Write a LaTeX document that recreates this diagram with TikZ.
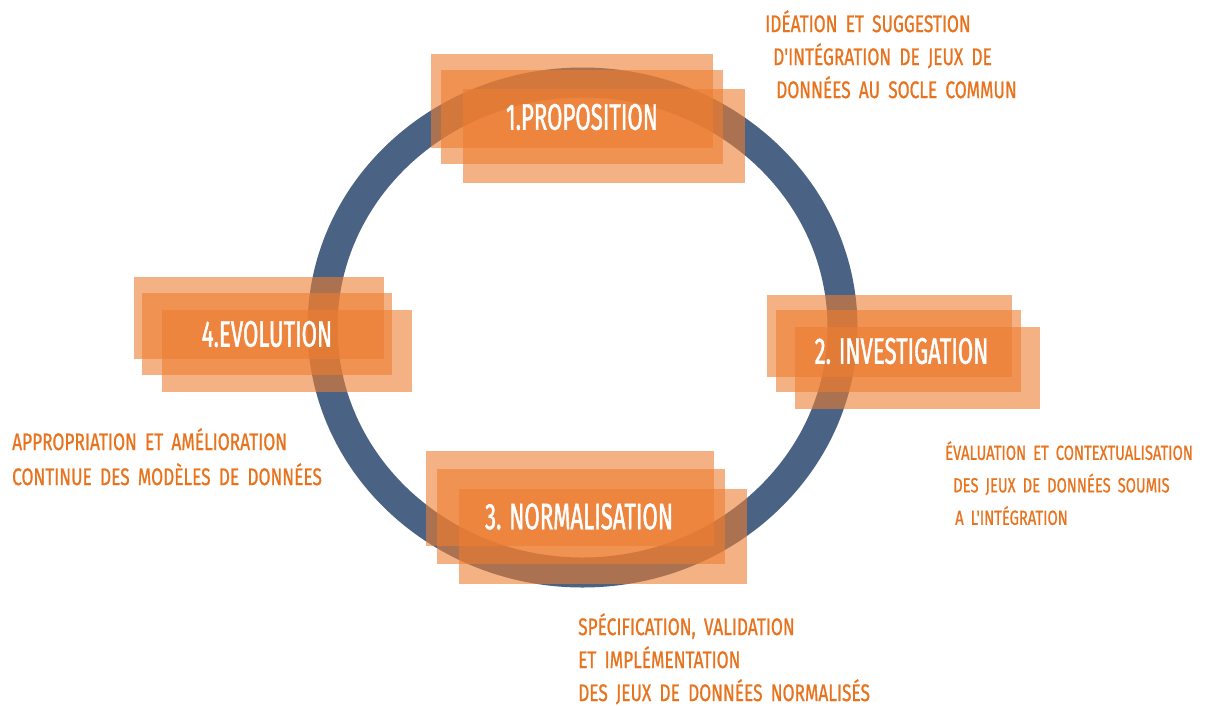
\documentclass[tikz,border=0pt]{standalone}
\usepackage{fontspec}
\setmainfont{Fira Sans}
\newfontfamily\stagefont{Fira Sans}[FakeStretch=0.6,FakeBold=1.2]
\newfontfamily\notefont{Fira Sans}[FakeStretch=0.72,FakeBold=0.8,WordSpace=1.8]
\usetikzlibrary{positioning}
\definecolor{ringblue}{RGB}{74,98,131}
\definecolor{stageorange}{RGB}{237,125,49}
\definecolor{noteorange}{RGB}{232,115,30}

\begin{document}
\begin{tikzpicture}[
				x=1pt, y=-1pt,
				on grid,
				ring/.style={
					draw=ringblue,
					line width=30pt
					},
				stage/.style 2 args={
					rectangle,
					fill=stageorange,
					fill opacity=0.6,
					minimum width=#1,
					minimum height=#2,
					inner sep=0pt
					},
				title/.style={
					text=white,
					font=\stagefont\fontsize{37}{37}\selectfont,
					inner sep=0pt
					},
				note/.style={
					text=noteorange,
					font=\notefont\fontsize{24}{33}\selectfont,
					align=left,
					anchor=north west,
					inner sep=0pt
					}]
			    \useasboundingbox (0,0) rectangle (1227,705);
			    % Draw ring
			    \coordinate (hub) at (582.5,327.5);
			    \draw [ring] (hub) ellipse [x radius=260, y radius=245];

			    % Place boxes
			    \node [stage={282pt}{94pt}] (prop) at (582,117) {};
			    \node [stage={282pt}{94pt}, above left=16.5pt and 10pt of prop] (prop-back) {};
			    \node [stage={282pt}{94pt}, below right=19pt and 21.5pt of prop] (prop-front) {};
			    \node [title] (prop-text) at (prop) {1.PROPOSITION};

			    \node [stage={245pt}{82pt}] (inv) at (898.5,351) {};
			    \node [stage={245pt}{82pt}, above left=15pt and 9pt of inv] (inv-back) {};
			    \node [stage={245pt}{82pt}, below right=16.5pt and 19pt of inv] (inv-front) {};
			    \node [title, right=3pt of inv] (inv-text) {2. INVESTIGATION};

			    \node [stage={288pt}{95pt}] (norm) at (580.5,516.5) {};
			    \node [stage={288pt}{95pt}, above left=18pt and 10.5pt of norm] (norm-back) {};
			    \node [stage={288pt}{95pt}, below right=19.5pt and 22.5pt of norm] (norm-front) {};
			    \node [title, left=1.5pt of norm] (norm-text) {3. NORMALISATION};

			    \node [stage={250pt}{82pt}] (evo) at (267,334) {};
			    \node [stage={250pt}{82pt}, above left=16.5pt and 8.5pt of evo] (evo-back) {};
			    \node [stage={250pt}{82pt}, below right=16.5pt and 20pt of evo] (evo-front) {};
			    \node [title] (evo-text) at (evo) {4.EVOLUTION};

			    % Place notes
			    \node [note] (prop-note) at (765,10) {ID\'EATION ET SUGGESTION\\
			    	\hspace*{8pt}D'INT\'EGRATION DE JEUX DE\\
			    	\hspace*{11pt}DONN\'EES AU SOCLE COMMUN};
			    \node [note, font=\notefont\fontsize{20.5}{32.5}\selectfont] (inv-note) at (945,441) {\'EVALUATION ET CONTEXTUALISATION\\
			    	\hspace*{8pt}DES JEUX DE DONN\'EES SOUMIS\\
			    	\hspace*{10pt}A L'INT\'EGRATION};
			    \node [note] (norm-note) at (578,613) {SP\'ECIFICATION, VALIDATION\\
			    	ET IMPL\'EMENTATION\\
			    	DES JEUX DE DONN\'EES NORMALIS\'ES};
			    \node [note, font=\notefont\fontsize{24}{35}\selectfont] (evo-note) at (12,428) {APPROPRIATION ET AM\'ELIORATION\\
			    	CONTINUE DES MOD\`ELES DE DONN\'EES};
			\end{tikzpicture}
\end{document}
